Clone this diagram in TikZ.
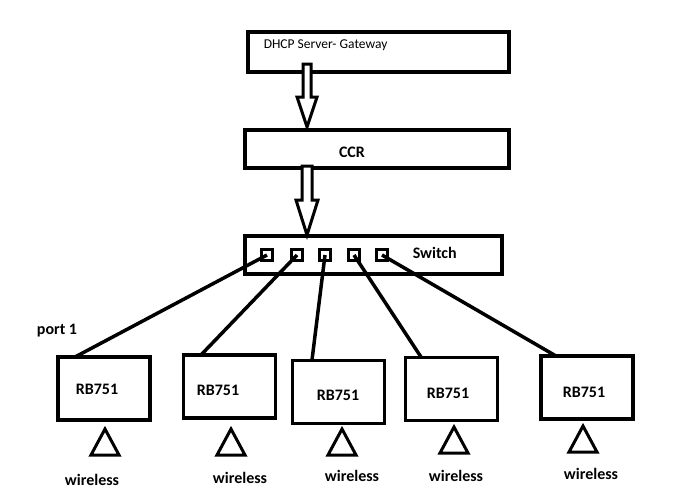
\documentclass[tikz,border=0pt]{standalone}
\usepackage{fontspec}
\setmainfont{Carlito}
\begin{document}
\begin{tikzpicture}[x=1pt,y=-1pt,line width=3.5pt,
 box/.style={draw,rectangle,minimum width=#1,inner sep=0pt},
 rb/.style={draw,rectangle,minimum width=92pt,minimum height=63pt,inner sep=0pt},
 port/.style={draw,rectangle,minimum size=11pt,inner sep=0pt,line width=3pt},
 lbl/.style={font=\bfseries\fontsize{16}{18}\selectfont,inner sep=0pt},
 tri/.style={draw,line width=3pt},
 harrow/.style={draw,line width=3pt,fill=white,line join=miter}]
\useasboundingbox (0,0) rectangle (676,501);
\node[box=261pt,minimum height=40pt] (dhcp) at (378.5,52) {};
\node[anchor=west,inner sep=0pt,font=\fontsize{13.5}{15}\selectfont] (dt) at (262,45) {DHCP Server- Gateway};
\node[box=264pt,minimum height=38pt] (ccr) at (377,149) {};
\node[lbl] (ccrt) at (352,152) {CCR};
\node[box=257pt,minimum height=38pt] (sw) at (373.5,255) {};
\node[lbl,anchor=west] (swt) at (411,253) {Switch};
\foreach \i/\x in {1/267,2/297,3/325,4/354,5/382}
  \node[port] (p\i) at (\x,255) {};
% hollow arrows
\draw[harrow] (303,64) -- (303,97) -- (297,97) -- (307,127) -- (317,97) -- (311,97) -- (311,64) -- cycle;
\draw[harrow] (302,166) -- (302,200) -- (296,200) -- (307,235) -- (318,200) -- (312,200) -- (312,166) -- cycle;
% RB boxes
\foreach \i/\x/\y in {1/104/388.5,2/229.5/386.5,3/338.5/392,4/451.5/389,5/587/387.5}{
  \node[rb] (rb\i) at (\x,\y) {};
}
\node[lbl] at (97,389) {RB751};
\node[lbl] at (218,390) {RB751};
\node[lbl] at (338,395) {RB751};
\node[lbl] at (448,393) {RB751};
\node[lbl] at (584,392) {RB751};
% connectors
\coordinate (e1) at (75,357); \coordinate (e2) at (200,356); \coordinate (e3) at (312,360);
\coordinate (e4) at (421,357); \coordinate (e5) at (556,356);
\draw (p1.center) -- (e1);
\draw (p2.center) -- (e2);
\draw (p3.center) -- (e3);
\draw (p4.center) -- (e4);
\draw (p5.center) -- (e5);
\node[lbl] at (57,331) {port 1};
% antennas
\foreach \x/\y/\wx/\wy in {105/455/92/480, 231/455/240/478, 342/455/352/476, 454/453/456/476, 583/452/591/474}{
  \draw[tri] (\x-14,\y) -- (\x,\y-26) -- (\x+14,\y) -- cycle;
  \node[lbl] at (\wx,\wy) {wireless};
}
\end{tikzpicture}
\end{document}
